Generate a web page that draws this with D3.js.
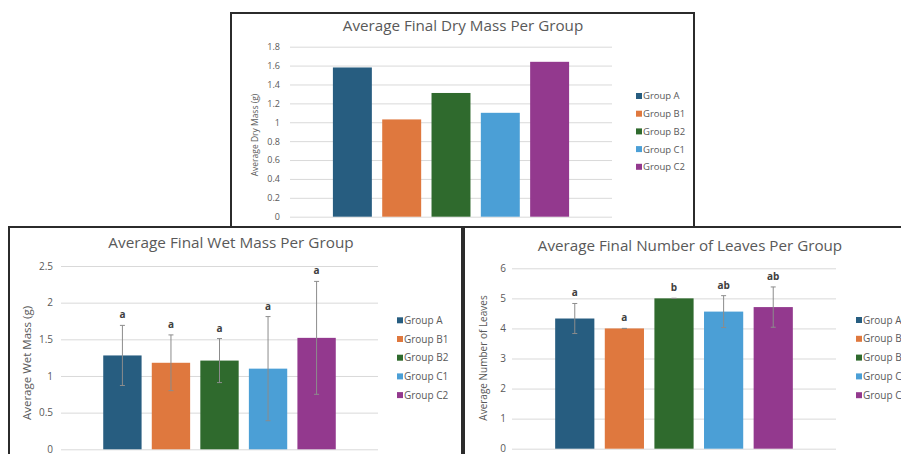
<!DOCTYPE html>
<html>
<head>
<meta charset="utf-8">
<script src="https://cdn.jsdelivr.net/npm/d3@7"></script>
<style>
  body { margin: 0; background: #fff; }
  svg { display: block; }
  text { font-family: 'Open Sans', 'Liberation Sans', sans-serif; fill: #595959; }
</style>
</head>
<body>
<svg id="canvas" width="901" height="454"></svg>
<script>
let groups = ['Group A', 'Group B1', 'Group B2', 'Group C1', 'Group C2']
let colors = ['#275d80', '#df783e', '#2f6a2d', '#4b9fd6', '#93398e']

let dryMass = [1.58, 1.03, 1.31, 1.10, 1.64]
let dryTicks = [0, 0.2, 0.4, 0.6, 0.8, 1, 1.2, 1.4, 1.6, 1.8]

let wetMass = [1.28, 1.18, 1.21, 1.10, 1.52]
let wetError = [0.41, 0.38, 0.30, 0.71, 0.77]
let wetLetters = ['a', 'a', 'a', 'a', 'a']
let wetTicks = [0, 0.5, 1, 1.5, 2, 2.5]

let leaves = [4.33, 4.0, 5.0, 4.56, 4.71]
let leavesError = [0.5, 0, 0, 0.53, 0.67]
let leavesLetters = ['a', 'a', 'b', 'ab', 'ab']
let leavesTicks = [0, 1, 2, 3, 4, 5, 6]

let canvas = d3.select('#canvas')

let drawPanel = (p) => {
    let g = canvas.append('g')

    let x = d3.scaleBand()
        .domain(groups)
        .range([p.left, p.right])
        .paddingInner(0.21)
        .paddingOuter(0.87)

    let y = d3.scaleLinear()
        .domain([0, p.ticks[p.ticks.length - 1]])
        .range([p.bottom, p.top])

    // frame
    g.append('rect')
        .attr('x', p.box[0]).attr('y', p.box[1])
        .attr('width', p.box[2]).attr('height', p.box[3])
        .attr('fill', '#fff')
        .attr('stroke', '#2b2b2b')
        .attr('stroke-width', 2)

    // gridlines + tick labels
    let axis = d3.axisLeft(y)
        .tickValues(p.ticks)
        .tickSize(-(p.right - p.left))
        .tickFormat(d3.format('~g'))

    let ax = g.append('g')
        .attr('transform', 'translate(' + p.left + ',0)')
        .call(axis)
    ax.select('.domain').remove()
    ax.selectAll('.tick line')
        .attr('stroke', '#d9d9d9')
    ax.selectAll('.tick text')
        .attr('x', -(p.left - p.tickX))
        .style('font-size', p.tickSize + 'px')
        .style('font-family', "'Open Sans', sans-serif")
        .attr('fill', '#595959')

    // bars
    g.selectAll('.bar')
        .data(p.values)
        .enter()
        .append('rect')
        .attr('class', 'bar')
        .attr('x', (d, i) => x(groups[i]))
        .attr('width', x.bandwidth())
        .attr('y', (d) => y(d))
        .attr('height', (d) => y(0) - y(d))
        .attr('fill', (d, i) => colors[i])

    // error bars
    if (p.errors) {
        let cap = 2.5
        let eb = g.selectAll('.err')
            .data(p.values)
            .enter()
            .append('g')
            .attr('class', 'err')
            .attr('stroke', '#8c8c8c')
            .attr('stroke-width', 1)
        eb.append('line')
            .attr('x1', (d, i) => x(groups[i]) + x.bandwidth() / 2)
            .attr('x2', (d, i) => x(groups[i]) + x.bandwidth() / 2)
            .attr('y1', (d, i) => y(d - p.errors[i]))
            .attr('y2', (d, i) => y(d + p.errors[i]))
        eb.append('line')
            .attr('x1', (d, i) => x(groups[i]) + x.bandwidth() / 2 - cap)
            .attr('x2', (d, i) => x(groups[i]) + x.bandwidth() / 2 + cap)
            .attr('y1', (d, i) => y(d + p.errors[i]))
            .attr('y2', (d, i) => y(d + p.errors[i]))
        eb.append('line')
            .attr('x1', (d, i) => x(groups[i]) + x.bandwidth() / 2 - cap)
            .attr('x2', (d, i) => x(groups[i]) + x.bandwidth() / 2 + cap)
            .attr('y1', (d, i) => y(d - p.errors[i]))
            .attr('y2', (d, i) => y(d - p.errors[i]))

        g.selectAll('.letter')
            .data(p.letters)
            .enter()
            .append('text')
            .attr('class', 'letter')
            .attr('x', (d, i) => x(groups[i]) + x.bandwidth() / 2)
            .attr('y', (d, i) => y(p.values[i] + p.errors[i]) - 7)
            .attr('text-anchor', 'middle')
            .style('font-size', '10px')
            .style('font-weight', 'bold')
            .style('fill', '#404040')
            .text((d) => d)
    }

    // title
    g.append('text')
        .attr('x', p.titleX).attr('y', p.titleY)
        .attr('text-anchor', 'middle')
        .style('font-size', p.titleSize + 'px')
        .text(p.title)

    // y axis title
    g.append('text')
        .attr('transform', 'translate(' + p.yTitleX + ',' + p.yTitleY + ') rotate(-90)')
        .attr('text-anchor', 'middle')
        .style('font-size', p.yTitleSize + 'px')
        .text(p.yTitle)

    // legend
    let lg = g.selectAll('.legend')
        .data(groups)
        .enter()
        .append('g')
        .attr('class', 'legend')
        .attr('transform', (d, i) => 'translate(' + p.legendX + ',' + (p.legendY + i * p.legendStep) + ')')
    lg.append('rect')
        .attr('x', 0).attr('y', -3)
        .attr('width', 6).attr('height', 6)
        .attr('fill', (d, i) => colors[i])
    lg.append('text')
        .attr('x', 7).attr('y', p.legendSize * 0.36)
        .style('font-size', p.legendSize + 'px')
        .text((d) => d)
}

// bottom left: wet mass
drawPanel({
    box: [9, 227, 453, 240],
    left: 61, right: 378, top: 266, bottom: 449.3,
    ticks: wetTicks, tickX: 53, tickSize: 10,
    values: wetMass, errors: wetError, letters: wetLetters,
    title: 'Average Final Wet Mass Per Group', titleX: 231, titleY: 248, titleSize: 15.3,
    yTitle: 'Average Wet Mass (g)', yTitleX: 31, yTitleY: 363, yTitleSize: 11.5,
    legendX: 397, legendY: 320.3, legendStep: 18.7, legendSize: 10
})

// bottom right: leaves
drawPanel({
    box: [464, 227, 450, 240],
    left: 512, right: 836, top: 268.3, bottom: 448.7,
    ticks: leavesTicks, tickX: 506, tickSize: 10,
    values: leaves, errors: leavesError, letters: leavesLetters,
    title: 'Average Final Number of Leaves Per Group', titleX: 690, titleY: 251, titleSize: 15.2,
    yTitle: 'Average Number of Leaves', yTitleX: 487, yTitleY: 358, yTitleSize: 10,
    legendX: 856, legendY: 320, legendStep: 18.8, legendSize: 10
})

// top: dry mass
drawPanel({
    box: [231, 13, 463, 214],
    left: 290, right: 612, top: 46.7, bottom: 216.7,
    ticks: dryTicks, tickX: 280, tickSize: 9,
    values: dryMass,
    title: 'Average Final Dry Mass Per Group', titleX: 463, titleY: 31, titleSize: 15.2,
    yTitle: 'Average Dry Mass (g)', yTitleX: 258, yTitleY: 135, yTitleSize: 8.5,
    legendX: 636, legendY: 96, legendStep: 17.7, legendSize: 9.5
})
</script>
</body>
</html>
